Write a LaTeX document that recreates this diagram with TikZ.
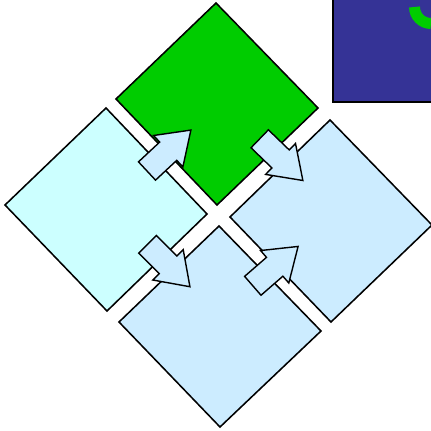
\documentclass[tikz,border=0pt]{standalone}
\usepackage{xcolor}
\usepackage{tikz}
\usetikzlibrary{calc}

\definecolor{leafgreen}{HTML}{00CC00}
\definecolor{icecyan}{HTML}{CCFFFF}
\definecolor{skyblue}{HTML}{CCECFF}
\definecolor{navybox}{HTML}{353396}

\begin{document}
\begin{tikzpicture}[x=0.025cm, y=-0.025cm, line join=miter,
    tile/.style={draw=black, line width=1.1pt},
    arrowlook/.style={draw=black, fill=skyblue, line width=1pt},
    blockarrow/.pic={\draw[arrowlook] (0,-12.5) -- (29,-12.5) -- (29,-21.5) -- (60,0)
        -- (29,21.5) -- (29,12.5) -- (0,12.5) -- cycle;}]
    \useasboundingbox (0,0) rectangle (431,431);

    % 1. Hop goc tren phai
    \draw[black, line width=0.8pt, fill=navybox] (333,-5) rectangle (440,102);
    \draw[leafgreen, line width=7.8pt] (414.5,7) arc[start angle=180, end angle=90, radius=16.5];

    % 2. Bon o vuong xoay
    \draw[tile, fill=leafgreen] (216,3) -- (318,108) -- (217,205) -- (116,99) -- cycle;
    \draw[tile, fill=icecyan] (106,108) -- (207,214) -- (107,311) -- (5,205) -- cycle;
    \draw[tile, fill=skyblue] (330,120) -- (432,225) -- (331,322) -- (230,217) -- cycle;
    \draw[tile, fill=skyblue] (219,226) -- (321,331) -- (220,427) -- (119,322) -- cycle;

    % 3. Mui ten khoi
    \pic[rotate=43] at (147,171) {blockarrow};
    \pic[rotate=-44] at (259.7,138.8) {blockarrow};
    \pic[rotate=-45] at (147.5,244.3) {blockarrow};
    \pic[rotate=41] at (252.8,285.8) {blockarrow};
\end{tikzpicture}
\end{document}
